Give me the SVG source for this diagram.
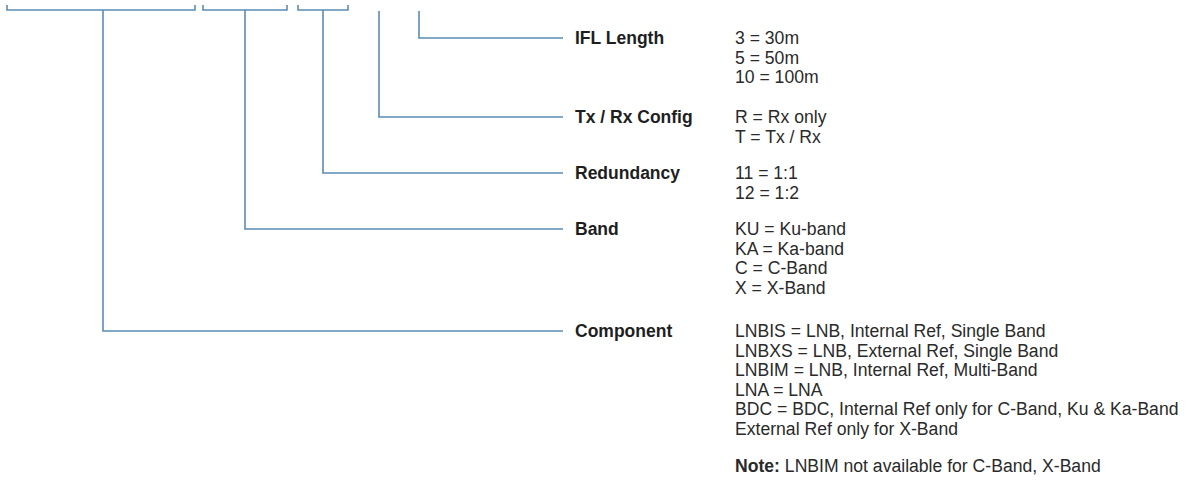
<svg xmlns="http://www.w3.org/2000/svg" width="1191" height="492" viewBox="0 0 1191 492">
<style>
.c{fill:none;stroke:#5a8cb6;stroke-width:1.6}
.l{font-family:"Liberation Sans",Arial,sans-serif;font-weight:bold;font-size:17.5px;fill:#1e1e1e}
.v{font-family:"Liberation Sans",Arial,sans-serif;font-size:17.6px;fill:#2a2a2a}
</style>
<rect width="1191" height="492" fill="#ffffff"/>
<g id="connectors">
<path class="c" d="M7,5 V10 H195 V5"/>
<path class="c" d="M203,5 V10 H287 V5"/>
<path class="c" d="M298,5 V10 H348 V5"/>
<path class="c" d="M103,10 V331 H563"/>
<path class="c" d="M245,10 V229 H563"/>
<path class="c" d="M323,10 V173 H563"/>
<path class="c" d="M379,11 V117 H563"/>
<path class="c" d="M419,11 V38 H563"/>
</g>
<g id="ifl-length">
<text class="l" x="575" y="44">IFL Length</text>
<text class="v" x="735" y="44">3 = 30m</text>
<text class="v" x="735" y="63.5">5 = 50m</text>
<text class="v" x="735" y="83">10 = 100m</text>
</g>
<g id="txrx-config">
<text class="l" x="575" y="123">Tx / Rx Config</text>
<text class="v" x="735" y="123">R = Rx only</text>
<text class="v" x="735" y="142.5">T = Tx / Rx</text>
</g>
<g id="redundancy">
<text class="l" x="575" y="179">Redundancy</text>
<text class="v" x="735" y="179">11 = 1:1</text>
<text class="v" x="735" y="198.5">12 = 1:2</text>
</g>
<g id="band">
<text class="l" x="575" y="235">Band</text>
<text class="v" x="735" y="235">KU = Ku-band</text>
<text class="v" x="735" y="254.5">KA = Ka-band</text>
<text class="v" x="735" y="274">C = C-Band</text>
<text class="v" x="735" y="293.5">X = X-Band</text>
</g>
<g id="component">
<text class="l" x="575" y="337">Component</text>
<text class="v" x="735" y="337">LNBIS = LNB, Internal Ref, Single Band</text>
<text class="v" x="735" y="356.5">LNBXS = LNB, External Ref, Single Band</text>
<text class="v" x="735" y="376">LNBIM = LNB, Internal Ref, Multi-Band</text>
<text class="v" x="735" y="395.5">LNA = LNA</text>
<text class="v" x="735" y="415">BDC = BDC, Internal Ref only for C-Band, Ku &amp; Ka-Band</text>
<text class="v" x="735" y="434.5">External Ref only for X-Band</text>
<text class="v" x="735" y="472"><tspan font-weight="bold">Note:</tspan> LNBIM not available for C-Band, X-Band</text>
</g>
</svg>
